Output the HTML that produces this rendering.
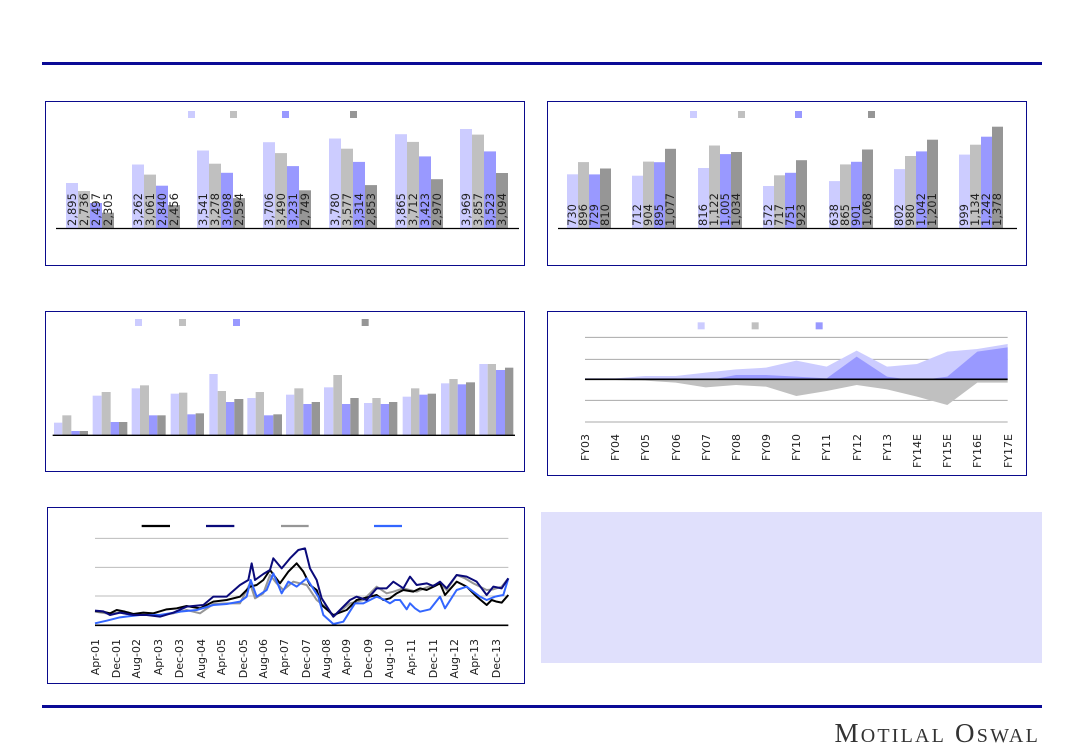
<!DOCTYPE html>
<html><head><meta charset="utf-8"><style>
html,body{margin:0;padding:0;background:#fff;}
svg{display:block;font-family:"DejaVu Sans","Liberation Sans",sans-serif;}
</style></head><body>
<svg width="1083" height="750" viewBox="0 0 1083 750" xmlns="http://www.w3.org/2000/svg">
<rect width="1083" height="750" fill="#fff"/>
<line x1="42" y1="63.5" x2="1042" y2="63.5" stroke="#0a0a96" stroke-width="3"/>
<line x1="42" y1="706.5" x2="1042" y2="706.5" stroke="#0a0a96" stroke-width="3"/>
<text x="1040" y="742" text-anchor="end" font-family="Liberation Serif,serif" font-size="27" fill="#333" letter-spacing="2.2">M<tspan font-size="20">OTILAL</tspan> O<tspan font-size="20">SWAL</tspan></text>

<!-- Chart 1 -->
<rect x="45.5" y="101.5" width="479" height="164" fill="#fff" stroke="#0a0a8c" stroke-width="1"/>
<g>
<rect x="188" y="111" width="7" height="7" fill="#ccccff"/><rect x="230" y="111" width="7" height="7" fill="#c0c0c0"/><rect x="282" y="111" width="7" height="7" fill="#9999ff"/><rect x="350" y="111" width="7" height="7" fill="#969696"/>
</g>
<g>
<rect x="66" y="183" width="12" height="45" fill="#ccccff"/><rect x="78" y="191" width="12" height="37" fill="#c0c0c0"/><rect x="90" y="203" width="12" height="25" fill="#9999ff"/><rect x="102" y="212.7" width="12" height="15.3" fill="#969696"/>
<rect x="132" y="164.5" width="12" height="63.5" fill="#ccccff"/><rect x="144" y="174.6" width="12" height="53.4" fill="#c0c0c0"/><rect x="156" y="185.7" width="12" height="42.3" fill="#9999ff"/><rect x="168" y="205.1" width="12" height="22.9" fill="#969696"/>
<rect x="197" y="150.5" width="12" height="77.5" fill="#ccccff"/><rect x="209" y="163.7" width="12" height="64.3" fill="#c0c0c0"/><rect x="221" y="172.8" width="12" height="55.2" fill="#9999ff"/><rect x="233" y="198.1" width="12" height="29.9" fill="#969696"/>
<rect x="263" y="142.2" width="12" height="85.8" fill="#ccccff"/><rect x="275" y="153.1" width="12" height="74.9" fill="#c0c0c0"/><rect x="287" y="166.1" width="12" height="61.9" fill="#9999ff"/><rect x="299" y="190.3" width="12" height="37.7" fill="#969696"/>
<rect x="329" y="138.5" width="12" height="89.5" fill="#ccccff"/><rect x="341" y="148.7" width="12" height="79.3" fill="#c0c0c0"/><rect x="353" y="161.9" width="12" height="66.1" fill="#9999ff"/><rect x="365" y="185.1" width="12" height="42.9" fill="#969696"/>
<rect x="395" y="134.2" width="12" height="93.8" fill="#ccccff"/><rect x="407" y="141.9" width="12" height="86.1" fill="#c0c0c0"/><rect x="419" y="156.4" width="12" height="71.6" fill="#9999ff"/><rect x="431" y="179.2" width="12" height="48.8" fill="#969696"/>
<rect x="460" y="129" width="12" height="99" fill="#ccccff"/><rect x="472" y="134.6" width="12" height="93.4" fill="#c0c0c0"/><rect x="484" y="151.4" width="12" height="76.6" fill="#9999ff"/><rect x="496" y="173" width="12" height="55" fill="#969696"/>
</g>
<line x1="56" y1="228.5" x2="519" y2="228.5" stroke="#000" stroke-width="1.2"/>
<g font-size="11.5" fill="#222">
<text transform="translate(76,226) rotate(-90)">2,895</text><text transform="translate(88,226) rotate(-90)">2,736</text><text transform="translate(100,226) rotate(-90)">2,497</text><text transform="translate(112,226) rotate(-90)">2,305</text>
<text transform="translate(142,226) rotate(-90)">3,262</text><text transform="translate(154,226) rotate(-90)">3,061</text><text transform="translate(166,226) rotate(-90)">2,840</text><text transform="translate(178,226) rotate(-90)">2,456</text>
<text transform="translate(207,226) rotate(-90)">3,541</text><text transform="translate(219,226) rotate(-90)">3,278</text><text transform="translate(231,226) rotate(-90)">3,098</text><text transform="translate(243,226) rotate(-90)">2,594</text>
<text transform="translate(273,226) rotate(-90)">3,706</text><text transform="translate(285,226) rotate(-90)">3,490</text><text transform="translate(297,226) rotate(-90)">3,231</text><text transform="translate(309,226) rotate(-90)">2,749</text>
<text transform="translate(339,226) rotate(-90)">3,780</text><text transform="translate(351,226) rotate(-90)">3,577</text><text transform="translate(363,226) rotate(-90)">3,314</text><text transform="translate(375,226) rotate(-90)">2,853</text>
<text transform="translate(405,226) rotate(-90)">3,865</text><text transform="translate(417,226) rotate(-90)">3,712</text><text transform="translate(429,226) rotate(-90)">3,423</text><text transform="translate(441,226) rotate(-90)">2,970</text>
<text transform="translate(470,226) rotate(-90)">3,969</text><text transform="translate(482,226) rotate(-90)">3,857</text><text transform="translate(494,226) rotate(-90)">3,523</text><text transform="translate(506,226) rotate(-90)">3,094</text>
</g>

<!-- Chart 2 -->
<rect x="547.5" y="101.5" width="479" height="164" fill="#fff" stroke="#0a0a8c" stroke-width="1"/>
<rect x="690" y="111" width="7" height="7" fill="#ccccff"/><rect x="738" y="111" width="7" height="7" fill="#c0c0c0"/><rect x="795" y="111" width="7" height="7" fill="#9999ff"/><rect x="868" y="111" width="7" height="7" fill="#969696"/>
<g>
<rect x="567" y="174.3" width="11" height="53.7" fill="#ccccff"/><rect x="578" y="162.1" width="11" height="65.9" fill="#c0c0c0"/><rect x="589" y="174.4" width="11" height="53.6" fill="#9999ff"/><rect x="600" y="168.5" width="11" height="59.5" fill="#969696"/>
<rect x="632" y="175.7" width="11" height="52.3" fill="#ccccff"/><rect x="643" y="161.6" width="11" height="66.4" fill="#c0c0c0"/><rect x="654" y="162.2" width="11" height="65.8" fill="#9999ff"/><rect x="665" y="148.8" width="11" height="79.2" fill="#969696"/>
<rect x="698" y="168" width="11" height="60" fill="#ccccff"/><rect x="709" y="145.5" width="11" height="82.5" fill="#c0c0c0"/><rect x="720" y="154.1" width="11" height="73.9" fill="#9999ff"/><rect x="731" y="152" width="11" height="76" fill="#969696"/>
<rect x="763" y="186" width="11" height="42" fill="#ccccff"/><rect x="774" y="175.3" width="11" height="52.7" fill="#c0c0c0"/><rect x="785" y="172.8" width="11" height="55.2" fill="#9999ff"/><rect x="796" y="160.2" width="11" height="67.8" fill="#969696"/>
<rect x="829" y="181.1" width="11" height="46.9" fill="#ccccff"/><rect x="840" y="164.4" width="11" height="63.6" fill="#c0c0c0"/><rect x="851" y="161.8" width="11" height="66.2" fill="#9999ff"/><rect x="862" y="149.5" width="11" height="78.5" fill="#969696"/>
<rect x="894" y="169.1" width="11" height="58.9" fill="#ccccff"/><rect x="905" y="156" width="11" height="72" fill="#c0c0c0"/><rect x="916" y="151.4" width="11" height="76.6" fill="#9999ff"/><rect x="927" y="139.7" width="11" height="88.3" fill="#969696"/>
<rect x="959" y="154.6" width="11" height="73.4" fill="#ccccff"/><rect x="970" y="144.7" width="11" height="83.3" fill="#c0c0c0"/><rect x="981" y="136.7" width="11" height="91.3" fill="#9999ff"/><rect x="992" y="126.7" width="11" height="101.3" fill="#969696"/>
</g>
<line x1="558" y1="228.5" x2="1017" y2="228.5" stroke="#000" stroke-width="1.2"/>
<g font-size="11.5" fill="#222">
<text transform="translate(576,226) rotate(-90)">730</text><text transform="translate(587,226) rotate(-90)">896</text><text transform="translate(598,226) rotate(-90)">729</text><text transform="translate(609,226) rotate(-90)">810</text>
<text transform="translate(641,226) rotate(-90)">712</text><text transform="translate(652,226) rotate(-90)">904</text><text transform="translate(663,226) rotate(-90)">895</text><text transform="translate(674,226) rotate(-90)">1,077</text>
<text transform="translate(707,226) rotate(-90)">816</text><text transform="translate(718,226) rotate(-90)">1,122</text><text transform="translate(729,226) rotate(-90)">1,005</text><text transform="translate(740,226) rotate(-90)">1,034</text>
<text transform="translate(772,226) rotate(-90)">572</text><text transform="translate(783,226) rotate(-90)">717</text><text transform="translate(794,226) rotate(-90)">751</text><text transform="translate(805,226) rotate(-90)">923</text>
<text transform="translate(838,226) rotate(-90)">638</text><text transform="translate(849,226) rotate(-90)">865</text><text transform="translate(860,226) rotate(-90)">901</text><text transform="translate(871,226) rotate(-90)">1,068</text>
<text transform="translate(903,226) rotate(-90)">802</text><text transform="translate(914,226) rotate(-90)">980</text><text transform="translate(925,226) rotate(-90)">1,042</text><text transform="translate(936,226) rotate(-90)">1,201</text>
<text transform="translate(968,226) rotate(-90)">999</text><text transform="translate(979,226) rotate(-90)">1,134</text><text transform="translate(990,226) rotate(-90)">1,242</text><text transform="translate(1001,226) rotate(-90)">1,378</text>
</g>

<!-- Chart 3 -->
<rect x="45.5" y="311.5" width="479" height="160" fill="#fff" stroke="#0a0a8c" stroke-width="1"/>
<g transform="translate(40,305) scale(0.33333)">
<rect x="285" y="42" width="21" height="21" fill="#ccccff"/><rect x="417" y="42" width="21" height="21" fill="#c0c0c0"/><rect x="579" y="42" width="21" height="21" fill="#9999ff"/><rect x="965" y="42" width="21" height="21" fill="#969696"/>
<g>
<rect x="42" y="353" width="25" height="37" fill="#ccccff"/><rect x="67" y="331" width="27" height="59" fill="#c0c0c0"/><rect x="94" y="378" width="25" height="12" fill="#9999ff"/><rect x="119" y="378" width="25" height="12" fill="#969696"/>
<rect x="158" y="272" width="27" height="118" fill="#ccccff"/><rect x="185" y="261" width="27" height="129" fill="#c0c0c0"/><rect x="212" y="351" width="25" height="39" fill="#9999ff"/><rect x="237" y="351" width="25" height="39" fill="#969696"/>
<rect x="275" y="250" width="25" height="140" fill="#ccccff"/><rect x="300" y="241" width="27" height="149" fill="#c0c0c0"/><rect x="327" y="331" width="25" height="59" fill="#9999ff"/><rect x="352" y="331" width="25" height="59" fill="#969696"/>
<rect x="392" y="266" width="25" height="124" fill="#ccccff"/><rect x="417" y="263" width="25" height="127" fill="#c0c0c0"/><rect x="442" y="328" width="25" height="62" fill="#9999ff"/><rect x="467" y="325" width="25" height="65" fill="#969696"/>
<rect x="508" y="207" width="25" height="183" fill="#ccccff"/><rect x="533" y="258" width="25" height="132" fill="#c0c0c0"/><rect x="558" y="291" width="25" height="99" fill="#9999ff"/><rect x="583" y="282" width="27" height="108" fill="#969696"/>
<rect x="622" y="279" width="25" height="111" fill="#ccccff"/><rect x="647" y="261" width="25" height="129" fill="#c0c0c0"/><rect x="672" y="331" width="28" height="59" fill="#9999ff"/><rect x="700" y="328" width="26" height="62" fill="#969696"/>
<rect x="738" y="269" width="25" height="121" fill="#ccccff"/><rect x="763" y="250" width="27" height="140" fill="#c0c0c0"/><rect x="790" y="297" width="25" height="93" fill="#9999ff"/><rect x="815" y="291" width="25" height="99" fill="#969696"/>
<rect x="852" y="247" width="28" height="143" fill="#ccccff"/><rect x="880" y="210" width="26" height="180" fill="#c0c0c0"/><rect x="906" y="297" width="25" height="93" fill="#9999ff"/><rect x="931" y="279" width="25" height="111" fill="#969696"/>
<rect x="972" y="294" width="25" height="96" fill="#ccccff"/><rect x="997" y="279" width="25" height="111" fill="#c0c0c0"/><rect x="1022" y="297" width="25" height="93" fill="#9999ff"/><rect x="1047" y="291" width="25" height="99" fill="#969696"/>
<rect x="1088" y="275" width="25" height="115" fill="#ccccff"/><rect x="1113" y="250" width="25" height="140" fill="#c0c0c0"/><rect x="1138" y="269" width="25" height="121" fill="#9999ff"/><rect x="1163" y="266" width="25" height="124" fill="#969696"/>
<rect x="1203" y="235" width="25" height="155" fill="#ccccff"/><rect x="1228" y="222" width="25" height="168" fill="#c0c0c0"/><rect x="1253" y="238" width="25" height="152" fill="#9999ff"/><rect x="1278" y="232" width="27" height="158" fill="#969696"/>
<rect x="1318" y="177" width="25" height="213" fill="#ccccff"/><rect x="1343" y="177" width="25" height="213" fill="#c0c0c0"/><rect x="1368" y="195" width="27" height="195" fill="#9999ff"/><rect x="1395" y="188" width="25" height="202" fill="#969696"/>
</g>
<line x1="38" y1="391" x2="1425" y2="391" stroke="#000" stroke-width="4"/>
</g>

<!-- Chart 4 -->
<rect x="547.5" y="311.5" width="479" height="164" fill="#fff" stroke="#0a0a8c" stroke-width="1"/>
<g transform="translate(545,310) scale(0.33333)">
<rect x="458" y="37" width="21" height="21" fill="#ccccff"/><rect x="620" y="37" width="21" height="21" fill="#c0c0c0"/><rect x="812" y="37" width="21" height="21" fill="#9999ff"/>
<g stroke="#aaa" stroke-width="3">
<line x1="120" y1="82" x2="1388" y2="82"/><line x1="120" y1="148" x2="1388" y2="148"/><line x1="120" y1="271" x2="1388" y2="271"/><line x1="120" y1="336" x2="1388" y2="336"/>
</g>
<polygon fill="#ccccff" points="120,208 120,205 211,205 301,198 392,198 482,188 573,178 663,173 754,152 845,170 935,122 1026,170 1116,162 1207,125 1297,117 1388,102 1388,208"/>
<polygon fill="#9999ff" points="120,208 120,205 211,205 301,205 392,205 482,212 573,195 663,195 754,200 845,205 935,140 1026,200 1116,212 1207,200 1297,125 1388,112 1388,208"/>
<polygon fill="#c0c0c0" points="120,208 120,210 211,210 301,212 392,218 482,232 573,225 663,230 754,258 845,243 935,225 1026,238 1116,260 1207,285 1297,218 1388,218 1388,208"/>
<line x1="120" y1="208" x2="1388" y2="208" stroke="#000" stroke-width="5"/>
</g>
<g font-size="11" fill="#222" text-anchor="end">
<text transform="translate(589,434) rotate(-90)">FY03</text><text transform="translate(619,434) rotate(-90)">FY04</text><text transform="translate(649,434) rotate(-90)">FY05</text><text transform="translate(680,434) rotate(-90)">FY06</text><text transform="translate(710,434) rotate(-90)">FY07</text><text transform="translate(740,434) rotate(-90)">FY08</text><text transform="translate(770,434) rotate(-90)">FY09</text><text transform="translate(800,434) rotate(-90)">FY10</text><text transform="translate(830,434) rotate(-90)">FY11</text><text transform="translate(861,434) rotate(-90)">FY12</text><text transform="translate(891,434) rotate(-90)">FY13</text><text transform="translate(921,434) rotate(-90)">FY14E</text><text transform="translate(951,434) rotate(-90)">FY15E</text><text transform="translate(981,434) rotate(-90)">FY16E</text><text transform="translate(1012,434) rotate(-90)">FY17E</text>
</g>

<!-- Chart 5 -->
<rect x="47.5" y="507.5" width="477" height="176" fill="#fff" stroke="#0a0a8c" stroke-width="1"/>
<g transform="translate(40,500) scale(0.33333)" fill="none" stroke-linejoin="round">
<line x1="305" y1="78" x2="390" y2="78" stroke="#000" stroke-width="7"/>
<line x1="498" y1="78" x2="583" y2="78" stroke="#0a0a7a" stroke-width="7"/>
<line x1="723" y1="78" x2="806" y2="78" stroke="#969696" stroke-width="7"/>
<line x1="1002" y1="78" x2="1086" y2="78" stroke="#3366ff" stroke-width="7"/>
<g stroke="#bbb" stroke-width="3"><line x1="165" y1="115" x2="1405" y2="115"/><line x1="165" y1="202" x2="1405" y2="202"/><line x1="165" y1="288" x2="1405" y2="288"/></g>
<polyline stroke="#969696" stroke-width="6" points="165,335 200,340 240,338 280,345 320,342 360,345 400,340 440,330 480,340 520,312 560,310 600,310 630,250 645,295 670,280 690,225 710,250 730,270 760,245 800,255 830,300 855,320 880,350 930,310 970,300 1010,260 1040,280 1060,275 1090,265 1130,275 1160,262 1200,250 1220,270 1250,225 1275,235 1300,250 1340,270 1360,268 1385,260 1405,235"/>
<polyline stroke="#000" stroke-width="6" points="165,333 190,335 210,340 230,330 255,335 280,342 310,338 340,340 380,328 410,325 440,318 480,325 520,305 560,300 600,290 630,260 650,255 670,240 690,210 705,230 720,250 745,215 770,190 790,215 810,255 830,270 845,315 880,345 920,330 950,300 990,290 1010,285 1030,300 1050,295 1070,280 1090,270 1120,275 1140,265 1160,270 1185,258 1200,250 1215,285 1250,245 1280,260 1310,290 1340,315 1355,300 1370,305 1385,308 1405,285"/>
<polyline stroke="#3366ff" stroke-width="6" points="165,370 200,362 240,352 300,345 360,345 420,335 470,330 520,315 560,312 600,305 620,290 632,240 650,290 680,270 700,220 725,280 745,245 770,260 800,235 835,290 850,345 880,372 910,365 945,310 970,310 1010,290 1030,298 1050,310 1065,300 1080,300 1100,328 1110,310 1125,325 1140,335 1170,328 1200,290 1215,325 1250,270 1280,260 1300,275 1320,290 1340,300 1365,290 1390,285 1405,235"/>
<polyline stroke="#0a0a7a" stroke-width="6" points="165,332 190,334 210,345 240,338 280,345 320,345 360,350 400,338 440,320 490,315 520,290 560,290 600,255 625,240 635,190 645,240 670,222 690,210 700,175 725,205 750,175 775,150 795,145 810,205 830,240 845,295 880,350 900,330 930,300 950,290 980,300 1010,265 1040,265 1060,245 1090,265 1110,230 1130,255 1160,250 1180,258 1200,245 1220,265 1250,225 1280,230 1310,245 1340,285 1360,260 1385,265 1405,235"/>
<line x1="165" y1="376" x2="1405" y2="376" stroke="#000" stroke-width="5"/>
</g>
<g font-size="11" fill="#222" text-anchor="end">
<text transform="translate(99,639) rotate(-90)">Apr-01</text><text transform="translate(120,639) rotate(-90)">Dec-01</text><text transform="translate(140,639) rotate(-90)">Aug-02</text><text transform="translate(162,639) rotate(-90)">Apr-03</text><text transform="translate(183,639) rotate(-90)">Dec-03</text><text transform="translate(205,639) rotate(-90)">Aug-04</text><text transform="translate(225,639) rotate(-90)">Apr-05</text><text transform="translate(247,639) rotate(-90)">Dec-05</text><text transform="translate(267,639) rotate(-90)">Aug-06</text><text transform="translate(288,639) rotate(-90)">Apr-07</text><text transform="translate(310,639) rotate(-90)">Dec-07</text><text transform="translate(330,639) rotate(-90)">Aug-08</text><text transform="translate(350,639) rotate(-90)">Apr-09</text><text transform="translate(372,639) rotate(-90)">Dec-09</text><text transform="translate(393,639) rotate(-90)">Aug-10</text><text transform="translate(415,639) rotate(-90)">Apr-11</text><text transform="translate(437,639) rotate(-90)">Dec-11</text><text transform="translate(458,639) rotate(-90)">Aug-12</text><text transform="translate(478,639) rotate(-90)">Apr-13</text><text transform="translate(500,639) rotate(-90)">Dec-13</text>
</g>

<!-- Text box -->
<rect x="541" y="512" width="501" height="151" fill="#e0e0fc"/>
</svg>
</body></html>
